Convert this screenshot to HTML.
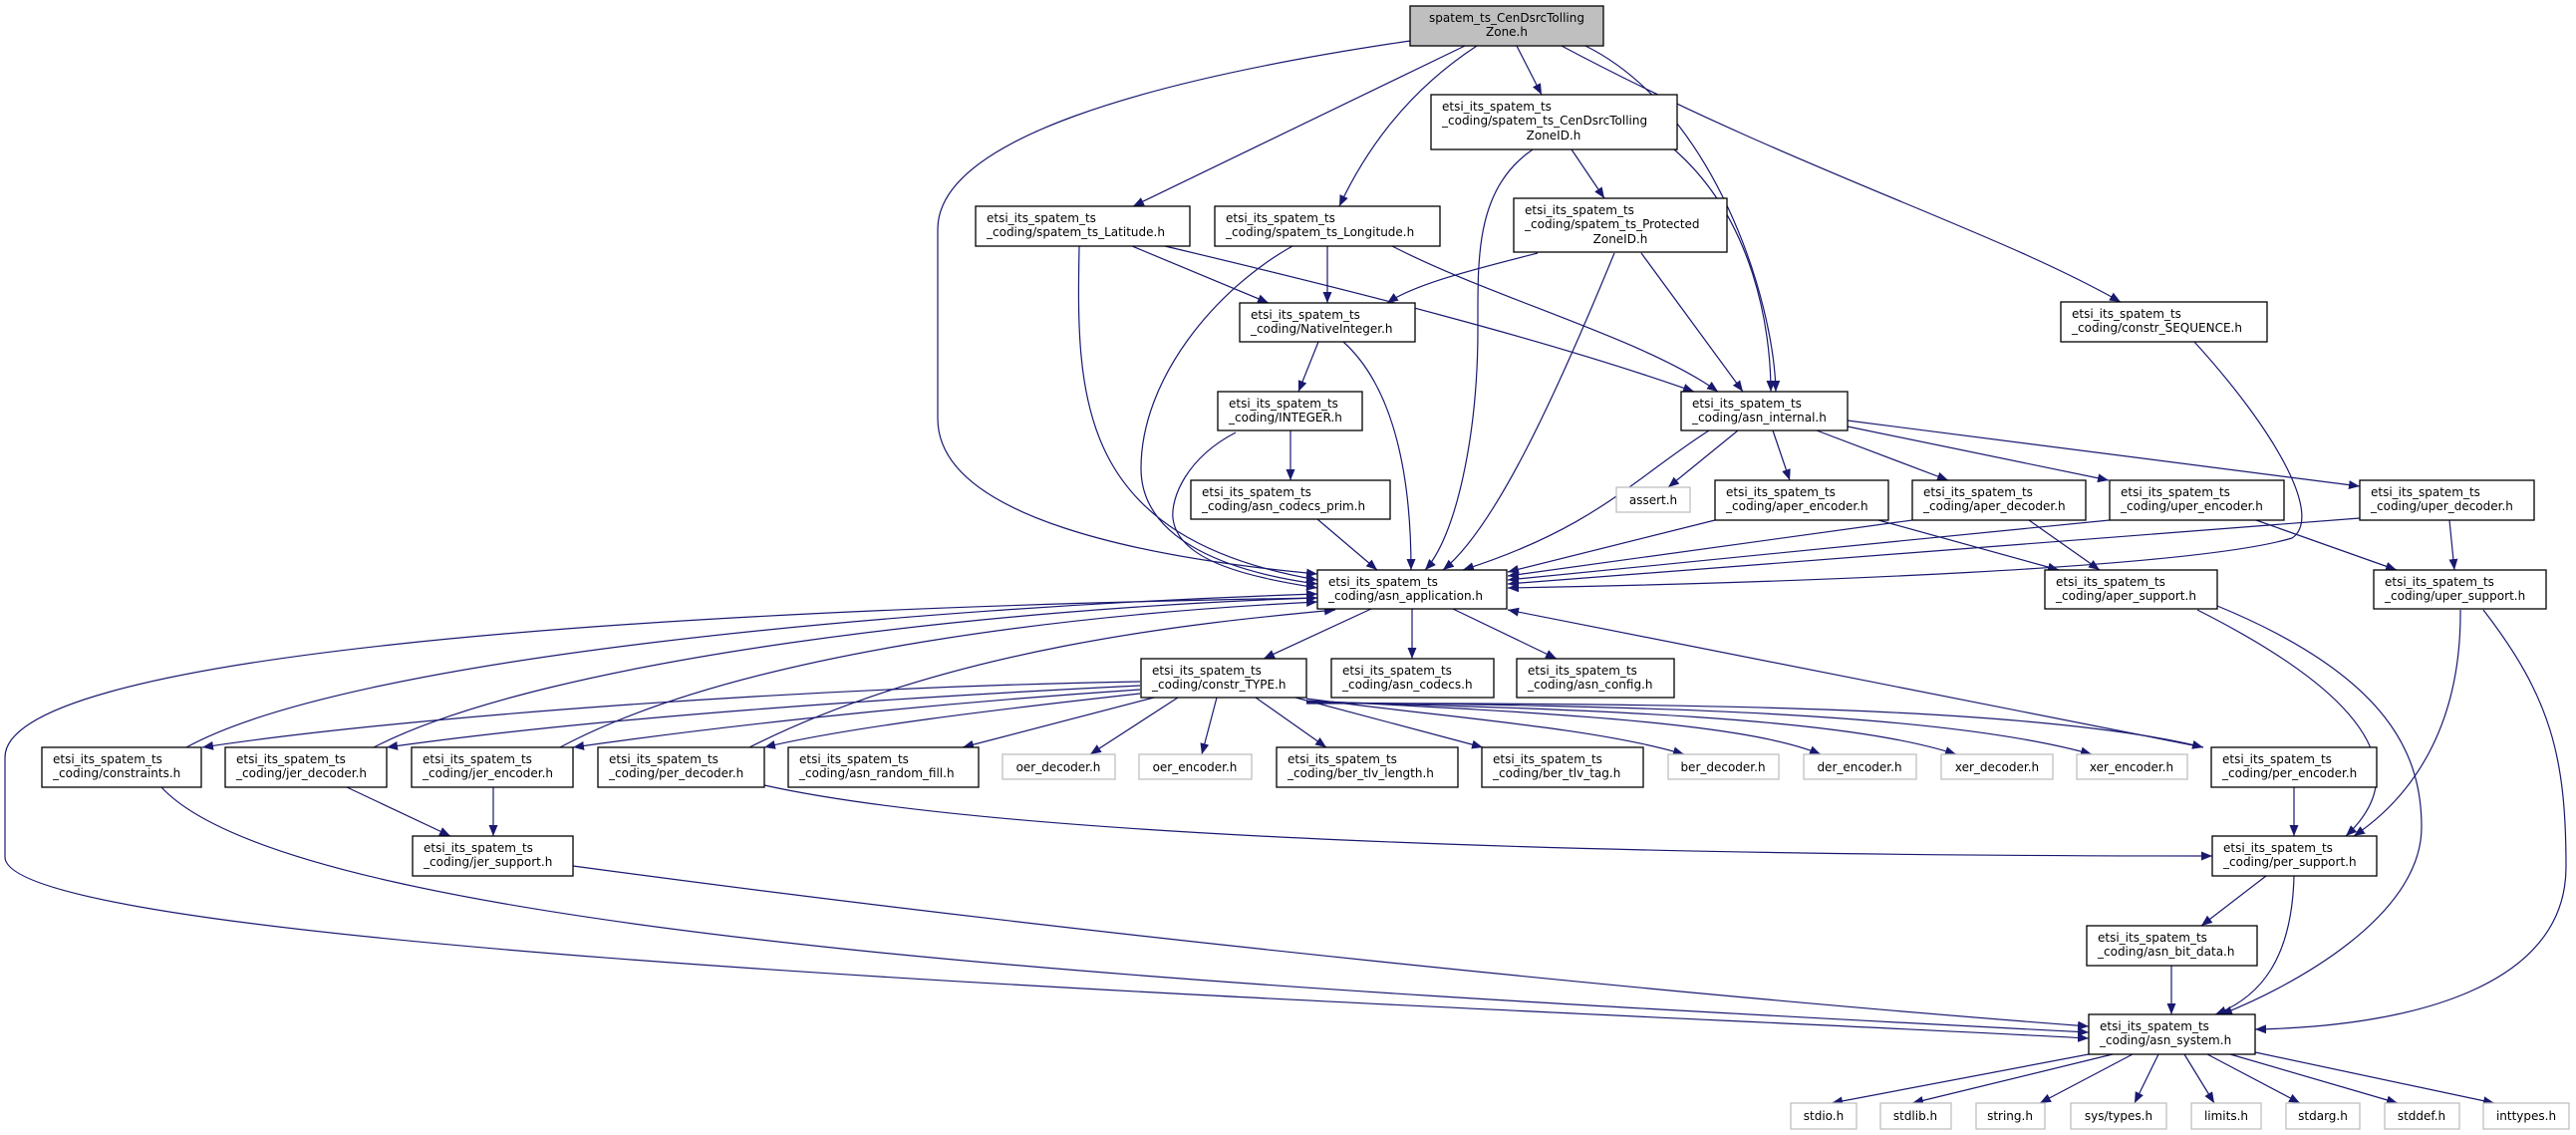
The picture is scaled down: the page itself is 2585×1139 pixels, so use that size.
<!DOCTYPE html>
<html><head><meta charset="utf-8"><style>
html,body{margin:0;padding:0;background:#fff;}
svg{display:block;}
text{font-family:"DejaVu Sans","Liberation Sans",sans-serif;font-size:12px;fill:#000;}
.e{fill:none;stroke:#191970;stroke-width:1.2;marker-end:url(#a);}
.n{fill:#fff;stroke:#000;stroke-width:1.3;}
.g{fill:#fff;stroke:#bfbfbf;stroke-width:1.3;}
</style></head><body>
<svg width="2585" height="1139" viewBox="0 0 2585 1139" xmlns="http://www.w3.org/2000/svg">
<defs><marker id="a" markerUnits="userSpaceOnUse" markerWidth="12" markerHeight="10" refX="11" refY="4.5" orient="auto"><path d="M0,0 L11,4.5 L0,9 z" fill="#191970"/></marker></defs>

<!-- edges from root -->
<path class="e" d="M1415,41 C1150,80 941,140 941,230 L941,420 C941,520 1150,560 1322,576"/>
<path class="e" d="M1470,46 L1137,207"/>
<path class="e" d="M1482,46 C1430,80 1380,130 1344,207"/>
<path class="e" d="M1522,46 L1547,95"/>
<path class="e" d="M1567,46 C1800,170 2000,230 2128,303"/>
<path class="e" d="M1591,46 C1720,110 1780,300 1782,393"/>
<!-- CZID -->
<path class="e" d="M1538,150 C1480,190 1483,260 1483,330 C1483,440 1460,540 1430,572"/>
<path class="e" d="M1577,150 L1610,199"/>
<path class="e" d="M1680,150 C1760,220 1777,330 1777,393"/>
<!-- PZID -->
<path class="e" d="M1543,254 C1480,270 1420,285 1392,304"/>
<path class="e" d="M1620,254 C1560,400 1500,530 1448,572"/>
<path class="e" d="M1647,254 L1749,393"/>
<!-- Latitude -->
<path class="e" d="M1083,247 C1080,400 1080,540 1322,582"/>
<path class="e" d="M1136,247 L1273,304"/>
<path class="e" d="M1169,247 C1350,290 1550,340 1700,393"/>
<!-- Longitude -->
<path class="e" d="M1332,247 L1332,304"/>
<path class="e" d="M1297,247 C1220,290 1145,380 1145,470 C1145,545 1240,575 1322,586"/>
<path class="e" d="M1397,247 C1500,300 1650,340 1724,393"/>
<!-- NativeInteger -->
<path class="e" d="M1323,343 L1303,393"/>
<path class="e" d="M1348,343 C1400,390 1416,480 1416,572"/>
<!-- INTEGER -->
<path class="e" d="M1295,432 L1295,482"/>
<path class="e" d="M1240,434 C1190,460 1175,500 1177,520 C1182,565 1260,580 1322,590"/>
<path class="e" d="M1322,521 L1382,572"/>
<!-- asn_internal -->
<path class="e" d="M1715,432 C1640,480 1600,530 1468,572"/>
<path class="e" d="M1744,432 L1674,489"/>
<path class="e" d="M1779,432 L1796,482"/>
<path class="e" d="M1823,432 L1955,482"/>
<path class="e" d="M1854,428 L2116,482"/>
<path class="e" d="M1854,422 L2368,488"/>
<path class="e" d="M1721,522 L1513,574"/>
<path class="e" d="M1885,522 L2066,572"/>
<path class="e" d="M1919,522 L1513,578"/>
<path class="e" d="M2036,522 L2107,572"/>
<path class="e" d="M2117,522 L1513,582"/>
<path class="e" d="M2264,522 L2405,572"/>
<path class="e" d="M2368,520 L1513,586"/>
<path class="e" d="M2458,522 L2463,572"/>
<path class="e" d="M2202,343 C2290,440 2330,520 2300,540 C2200,570 1800,585 1513,590"/>
<!-- asn_application out -->
<path class="e" d="M1376,611 L1268,661"/>
<path class="e" d="M1417,611 L1417,661"/>
<path class="e" d="M1458,611 L1562,661"/>
<!-- constr_TYPE out -->
<path class="e" d="M1144,684 C800,690 400,720 203,750"/>
<path class="e" d="M1144,688 C900,700 600,720 388,750"/>
<path class="e" d="M1144,692 C950,705 750,725 575,750"/>
<path class="e" d="M1144,696 C1000,712 850,730 767,750"/>
<path class="e" d="M1158,700 L966,750"/>
<path class="e" d="M1182,700 L1094,757"/>
<path class="e" d="M1221,700 L1206,757"/>
<path class="e" d="M1260,700 L1331,750"/>
<path class="e" d="M1300,700 L1488,750"/>
<path class="e" d="M1311,701 C1450,720 1600,730 1690,757"/>
<path class="e" d="M1311,703 C1550,715 1750,725 1827,757"/>
<path class="e" d="M1311,704 C1600,712 1850,720 1963,757"/>
<path class="e" d="M1311,705 C1650,708 1950,715 2099,757"/>
<path class="e" d="M1311,706 C1700,705 2050,710 2211,750"/>
<!-- into asn_application from row -->
<path class="e" d="M187,750 C350,660 900,610 1322,596"/>
<path class="e" d="M375,750 C550,660 1000,610 1322,600"/>
<path class="e" d="M562,750 C750,650 1100,615 1322,604"/>
<path class="e" d="M752,750 C950,650 1200,625 1340,612"/>
<path class="e" d="M2211,750 L1513,612"/>
<!-- lower -->
<path class="e" d="M162,790 C300,940 1200,990 2096,1036"/>
<path class="e" d="M348,790 L452,839"/>
<path class="e" d="M495,790 L495,839"/>
<path class="e" d="M575,869 C1100,940 1700,1000 2096,1030"/>
<path class="e" d="M767,788 C1000,840 1600,859 2220,859"/>
<path class="e" d="M2302,790 L2302,839"/>
<path class="e" d="M2205,612 C2300,660 2450,750 2354,839"/>
<path class="e" d="M2225,608 C2400,680 2430,760 2430,830 C2430,920 2300,990 2229,1018"/>
<path class="e" d="M2469,612 C2470,730 2420,800 2362,839"/>
<path class="e" d="M2492,612 C2560,700 2575,760 2575,870 C2575,990 2420,1030 2263,1033"/>
<path class="e" d="M2274,879 L2209,929"/>
<path class="e" d="M2302,879 C2300,960 2270,1000 2223,1018"/>
<path class="e" d="M2179,969 L2179,1018"/>
<path class="e" d="M1322,600 C600,612 5,660 5,760 L5,860 C5,960 1500,1010 2096,1042"/>
<!-- asn_system out -->
<path class="e" d="M2096,1058 L1838,1107"/>
<path class="e" d="M2120,1058 L1919,1107"/>
<path class="e" d="M2140,1058 L2047,1107"/>
<path class="e" d="M2166,1058 L2142,1107"/>
<path class="e" d="M2192,1058 L2222,1107"/>
<path class="e" d="M2215,1058 L2308,1107"/>
<path class="e" d="M2238,1058 L2406,1107"/>
<path class="e" d="M2263,1056 L2503,1107"/>

<!-- nodes -->
<rect x="1415" y="6" width="194" height="40" fill="#bfbfbf" stroke="#000" stroke-width="1.3"/>
<text x="1512" y="22" text-anchor="middle">spatem_ts_CenDsrcTolling</text><text x="1512" y="36" text-anchor="middle">Zone.h</text>

<rect class="n" x="1436" y="95" width="247" height="55"/>
<text x="1447" y="111">etsi_its_spatem_ts</text><text x="1447" y="125">_coding/spatem_ts_CenDsrcTolling</text><text x="1559" y="140" text-anchor="middle">ZoneID.h</text>

<rect class="n" x="1519" y="199" width="214" height="54"/>
<text x="1530" y="215">etsi_its_spatem_ts</text><text x="1530" y="229">_coding/spatem_ts_Protected</text><text x="1626" y="244" text-anchor="middle">ZoneID.h</text>

<rect class="n" x="979" y="207" width="215" height="40"/>
<text x="990" y="223">etsi_its_spatem_ts</text><text x="990" y="237">_coding/spatem_ts_Latitude.h</text>
<rect class="n" x="1219" y="207" width="226" height="40"/>
<text x="1230" y="223">etsi_its_spatem_ts</text><text x="1230" y="237">_coding/spatem_ts_Longitude.h</text>
<rect class="n" x="2068" y="303" width="207" height="40"/>
<text x="2079" y="319">etsi_its_spatem_ts</text><text x="2079" y="333">_coding/constr_SEQUENCE.h</text>
<rect class="n" x="1244" y="304" width="176" height="39"/>
<text x="1255" y="320">etsi_its_spatem_ts</text><text x="1255" y="334">_coding/NativeInteger.h</text>
<rect class="n" x="1222" y="393" width="145" height="39"/>
<text x="1233" y="409">etsi_its_spatem_ts</text><text x="1233" y="423">_coding/INTEGER.h</text>
<rect class="n" x="1687" y="393" width="167" height="39"/>
<text x="1698" y="409">etsi_its_spatem_ts</text><text x="1698" y="423">_coding/asn_internal.h</text>
<rect class="n" x="1195" y="482" width="200" height="39"/>
<text x="1206" y="498">etsi_its_spatem_ts</text><text x="1206" y="512">_coding/asn_codecs_prim.h</text>
<rect class="g" x="1622" y="489" width="74" height="25"/>
<text x="1659" y="506" text-anchor="middle">assert.h</text>
<rect class="n" x="1721" y="482" width="174" height="40"/>
<text x="1732" y="498">etsi_its_spatem_ts</text><text x="1732" y="512">_coding/aper_encoder.h</text>
<rect class="n" x="1919" y="482" width="174" height="40"/>
<text x="1930" y="498">etsi_its_spatem_ts</text><text x="1930" y="512">_coding/aper_decoder.h</text>
<rect class="n" x="2117" y="482" width="175" height="40"/>
<text x="2128" y="498">etsi_its_spatem_ts</text><text x="2128" y="512">_coding/uper_encoder.h</text>
<rect class="n" x="2368" y="482" width="175" height="40"/>
<text x="2379" y="498">etsi_its_spatem_ts</text><text x="2379" y="512">_coding/uper_decoder.h</text>
<rect class="n" x="1322" y="572" width="190" height="39"/>
<text x="1333" y="588">etsi_its_spatem_ts</text><text x="1333" y="602">_coding/asn_application.h</text>
<rect class="n" x="2052" y="572" width="173" height="39"/>
<text x="2063" y="588">etsi_its_spatem_ts</text><text x="2063" y="602">_coding/aper_support.h</text>
<rect class="n" x="2382" y="572" width="173" height="39"/>
<text x="2393" y="588">etsi_its_spatem_ts</text><text x="2393" y="602">_coding/uper_support.h</text>
<rect class="n" x="1145" y="661" width="166" height="39"/>
<text x="1156" y="677">etsi_its_spatem_ts</text><text x="1156" y="691">_coding/constr_TYPE.h</text>
<rect class="n" x="1336" y="661" width="163" height="39"/>
<text x="1347" y="677">etsi_its_spatem_ts</text><text x="1347" y="691">_coding/asn_codecs.h</text>
<rect class="n" x="1522" y="661" width="158" height="39"/>
<text x="1533" y="677">etsi_its_spatem_ts</text><text x="1533" y="691">_coding/asn_config.h</text>

<rect class="n" x="42" y="750" width="160" height="40"/>
<text x="53" y="766">etsi_its_spatem_ts</text><text x="53" y="780">_coding/constraints.h</text>
<rect class="n" x="226" y="750" width="162" height="40"/>
<text x="237" y="766">etsi_its_spatem_ts</text><text x="237" y="780">_coding/jer_decoder.h</text>
<rect class="n" x="413" y="750" width="162" height="40"/>
<text x="424" y="766">etsi_its_spatem_ts</text><text x="424" y="780">_coding/jer_encoder.h</text>
<rect class="n" x="600" y="750" width="167" height="40"/>
<text x="611" y="766">etsi_its_spatem_ts</text><text x="611" y="780">_coding/per_decoder.h</text>
<rect class="n" x="791" y="750" width="191" height="40"/>
<text x="802" y="766">etsi_its_spatem_ts</text><text x="802" y="780">_coding/asn_random_fill.h</text>
<rect class="g" x="1006" y="757" width="113" height="25"/>
<text x="1062" y="774" text-anchor="middle">oer_decoder.h</text>
<rect class="g" x="1143" y="757" width="113" height="25"/>
<text x="1199" y="774" text-anchor="middle">oer_encoder.h</text>
<rect class="n" x="1281" y="750" width="182" height="40"/>
<text x="1292" y="766">etsi_its_spatem_ts</text><text x="1292" y="780">_coding/ber_tlv_length.h</text>
<rect class="n" x="1487" y="750" width="162" height="40"/>
<text x="1498" y="766">etsi_its_spatem_ts</text><text x="1498" y="780">_coding/ber_tlv_tag.h</text>
<rect class="g" x="1674" y="757" width="111" height="25"/>
<text x="1729" y="774" text-anchor="middle">ber_decoder.h</text>
<rect class="g" x="1810" y="757" width="113" height="25"/>
<text x="1866" y="774" text-anchor="middle">der_encoder.h</text>
<rect class="g" x="1948" y="757" width="112" height="25"/>
<text x="2004" y="774" text-anchor="middle">xer_decoder.h</text>
<rect class="g" x="2084" y="757" width="111" height="25"/>
<text x="2139" y="774" text-anchor="middle">xer_encoder.h</text>
<rect class="n" x="2219" y="750" width="166" height="40"/>
<text x="2230" y="766">etsi_its_spatem_ts</text><text x="2230" y="780">_coding/per_encoder.h</text>

<rect class="n" x="414" y="839" width="161" height="40"/>
<text x="425" y="855">etsi_its_spatem_ts</text><text x="425" y="869">_coding/jer_support.h</text>
<rect class="n" x="2220" y="839" width="165" height="40"/>
<text x="2231" y="855">etsi_its_spatem_ts</text><text x="2231" y="869">_coding/per_support.h</text>
<rect class="n" x="2094" y="929" width="171" height="40"/>
<text x="2105" y="945">etsi_its_spatem_ts</text><text x="2105" y="959">_coding/asn_bit_data.h</text>
<rect class="n" x="2096" y="1018" width="167" height="40"/>
<text x="2107" y="1034">etsi_its_spatem_ts</text><text x="2107" y="1048">_coding/asn_system.h</text>

<rect class="g" x="1797" y="1107" width="66" height="26"/><text x="1830" y="1124" text-anchor="middle">stdio.h</text>
<rect class="g" x="1887" y="1107" width="71" height="26"/><text x="1922" y="1124" text-anchor="middle">stdlib.h</text>
<rect class="g" x="1983" y="1107" width="69" height="26"/><text x="2017" y="1124" text-anchor="middle">string.h</text>
<rect class="g" x="2078" y="1107" width="96" height="26"/><text x="2126" y="1124" text-anchor="middle">sys/types.h</text>
<rect class="g" x="2199" y="1107" width="70" height="26"/><text x="2234" y="1124" text-anchor="middle">limits.h</text>
<rect class="g" x="2294" y="1107" width="74" height="26"/><text x="2331" y="1124" text-anchor="middle">stdarg.h</text>
<rect class="g" x="2393" y="1107" width="75" height="26"/><text x="2430" y="1124" text-anchor="middle">stddef.h</text>
<rect class="g" x="2492" y="1107" width="86" height="26"/><text x="2535" y="1124" text-anchor="middle">inttypes.h</text>
</svg>
</body></html>
